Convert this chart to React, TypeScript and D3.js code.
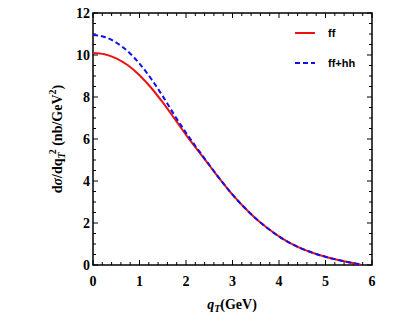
import React, { useEffect, useRef } from 'react';
import * as d3 from 'd3';

const qT = [0, 0.25, 0.5, 0.75, 1, 1.25, 1.5, 1.75, 2, 2.25, 2.5, 2.75, 3, 3.25, 3.5, 3.75, 4, 4.25, 4.5, 4.75, 5, 5.25, 5.5, 5.75];
const ff = [10.1, 10.04, 9.84, 9.51, 9.04, 8.44, 7.74, 6.98, 6.2, 5.47, 4.75, 4.03, 3.35, 2.75, 2.22, 1.76, 1.36, 1.03, 0.77, 0.56, 0.39, 0.25, 0.13, 0.02];
const ffhh = [10.95, 10.86, 10.59, 10.17, 9.59, 8.87, 8.04, 7.14, 6.3, 5.52, 4.77, 4.03, 3.35, 2.75, 2.22, 1.76, 1.36, 1.03, 0.77, 0.56, 0.39, 0.25, 0.13, 0.02];
const xTicks = [0, 1, 2, 3, 4, 5, 6];
const yTicks = [0, 2, 4, 6, 8, 10, 12];

const W = 409;
const H = 327;
const m = { left: 93, right: 37, top: 13, bottom: 62 };

export default function App() {
  const ref = useRef<SVGSVGElement>(null);

  useEffect(() => {
    const svg = d3.select(ref.current);
    svg.selectAll('*').remove();

    const x = d3.scaleLinear().domain([0, 6]).range([m.left, W - m.right]);
    const y = d3.scaleLinear().domain([0, 12]).range([H - m.bottom, m.top]);
    const font = '"Liberation Serif", "Times New Roman", serif';

    // ticks, inward on all four sides
    const minorX = d3.range(0, 6.001, 0.2);
    const minorY = d3.range(0, 12.001, 0.5);
    const g = svg.append('g').attr('stroke', '#000').attr('stroke-width', 1);
    minorX.forEach(v => {
      const major = xTicks.some(t => Math.abs(t - v) < 1e-6);
      const len = major ? 5 : 3;
      g.append('line').attr('x1', x(v)).attr('x2', x(v)).attr('y1', y(0)).attr('y2', y(0) - len);
      g.append('line').attr('x1', x(v)).attr('x2', x(v)).attr('y1', y(12)).attr('y2', y(12) + len);
    });
    minorY.forEach(v => {
      const major = yTicks.some(t => Math.abs(t - v) < 1e-6);
      const len = major ? 5 : 3;
      g.append('line').attr('x1', x(0)).attr('x2', x(0) + len).attr('y1', y(v)).attr('y2', y(v));
      g.append('line').attr('x1', x(6)).attr('x2', x(6) - len).attr('y1', y(v)).attr('y2', y(v));
    });

    svg.append('rect')
      .attr('x', x(0)).attr('y', y(12))
      .attr('width', x(6) - x(0)).attr('height', y(0) - y(12))
      .attr('fill', 'none').attr('stroke', '#000').attr('stroke-width', 1.5);

    // tick labels
    svg.append('g').selectAll('text').data(xTicks).join('text')
      .attr('x', d => x(d)).attr('y', y(0) + 21)
      .attr('text-anchor', 'middle')
      .attr('font-family', font).attr('font-weight', 'bold').attr('font-size', 14)
      .text(d => d);
    svg.append('g').selectAll('text').data(yTicks).join('text')
      .attr('x', x(0) - 3).attr('y', d => y(d) + 5)
      .attr('text-anchor', 'end')
      .attr('font-family', font).attr('font-weight', 'bold').attr('font-size', 14)
      .text(d => d);

    // curves
    const line = d3.line<number>()
      .curve(d3.curveMonotoneX)
      .x((_, i) => x(qT[i]))
      .y(d => y(d));

    svg.append('path').datum(ff)
      .attr('fill', 'none').attr('stroke', '#ee1111').attr('stroke-width', 2)
      .attr('d', line);
    svg.append('path').datum(ffhh)
      .attr('fill', 'none').attr('stroke', '#1111ee').attr('stroke-width', 2)
      .attr('stroke-dasharray', '5,3')
      .attr('d', line);

    // legend
    const leg = svg.append('g').attr('font-family', '"Liberation Sans", Arial, sans-serif')
      .attr('font-weight', 'bold').attr('font-size', 11);
    leg.append('line').attr('x1', 295).attr('x2', 315).attr('y1', 33).attr('y2', 33)
      .attr('stroke', '#ee1111').attr('stroke-width', 2);
    leg.append('text').attr('x', 328).attr('y', 37).text('ff');
    leg.append('line').attr('x1', 295).attr('x2', 315).attr('y1', 63).attr('y2', 63)
      .attr('stroke', '#1111ee').attr('stroke-width', 2).attr('stroke-dasharray', '5,3');
    leg.append('text').attr('x', 328).attr('y', 67).text('ff+hh');

    // x axis title
    const xt = svg.append('text')
      .attr('x', 232).attr('y', 309).attr('text-anchor', 'middle')
      .attr('font-family', font).attr('font-weight', 'bold').attr('font-size', 14);
    xt.append('tspan').attr('font-style', 'italic').text('q');
    xt.append('tspan').attr('font-style', 'italic').attr('font-size', 10).attr('dy', 3).text('T');
    xt.append('tspan').attr('dy', -3).text('(GeV)');

    // y axis title
    const yt = svg.append('text')
      .attr('transform', `translate(62,${(y(0) + y(12)) / 2}) rotate(-90)`)
      .attr('text-anchor', 'middle')
      .attr('font-family', font).attr('font-weight', 'bold').attr('font-size', 14);
    yt.append('tspan').text('d');
    yt.append('tspan').attr('font-style', 'italic').text('σ');
    yt.append('tspan').text('/dq');
    yt.append('tspan').attr('font-style', 'italic').attr('font-size', 10).attr('dy', 3).text('T');
    yt.append('tspan').attr('font-size', 10).attr('dy', -9).attr('dx', -2).text('2');
    yt.append('tspan').attr('dy', 6).text(' (nb/GeV');
    yt.append('tspan').attr('font-size', 10).attr('dy', -6).text('2');
    yt.append('tspan').attr('dy', 6).text(')');
  }, []);

  return (
    <svg ref={ref} width={W} height={H} style={{ display: 'block', position: 'absolute', left: 0, top: 0 }} />
  );
}
